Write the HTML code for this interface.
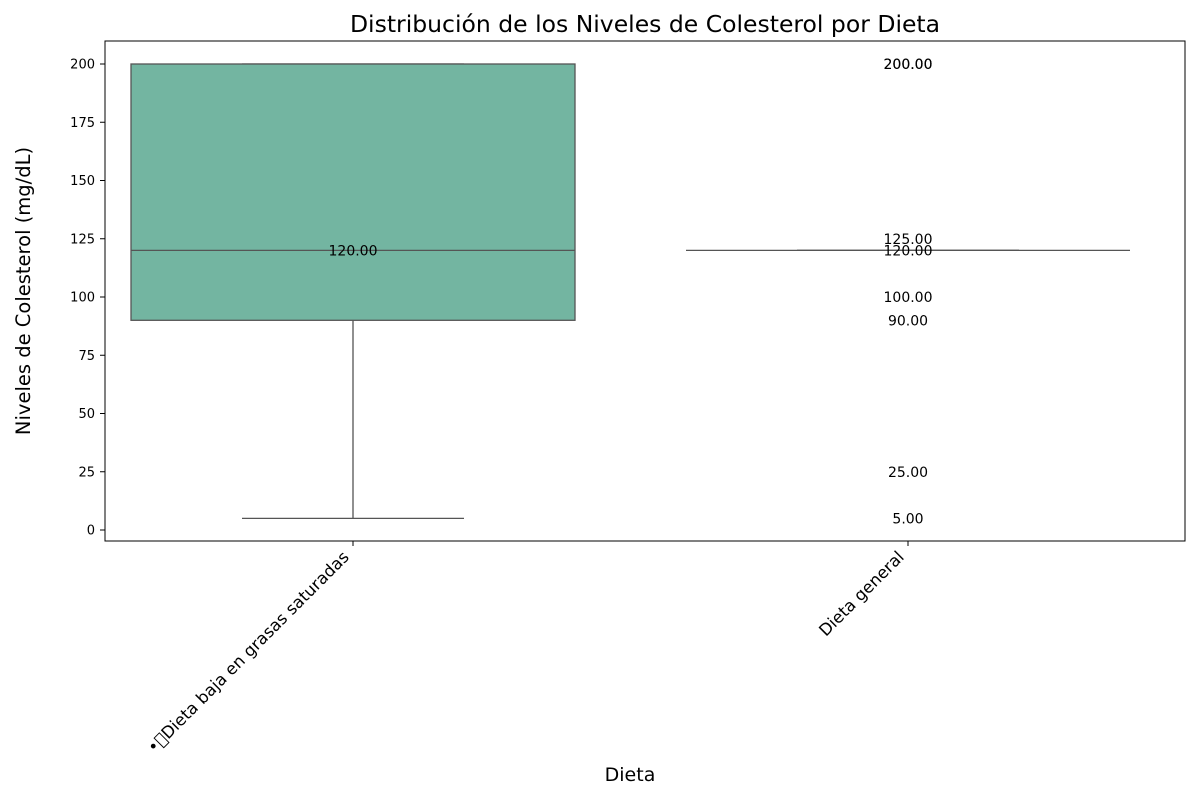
<!DOCTYPE html>
<html><head><meta charset="utf-8"><style>
body{margin:0;background:#fff;font-family:"Liberation Sans","DejaVu Sans",sans-serif}
</style></head><body>
<svg id="chart" width="1200" height="800" xmlns="http://www.w3.org/2000/svg" font-family="DejaVu Sans, Liberation Sans, sans-serif">
<text x="645" y="32" font-size="23.5" text-anchor="middle">Distribución de los Niveles de Colesterol por Dieta</text>
<text x="630" y="781" font-size="19" text-anchor="middle">Dieta</text>
<text transform="translate(30,291) rotate(-90)" font-size="19.5" text-anchor="middle">Niveles de Colesterol (mg/dL)</text>
<g id="plot"></g>
<rect x="105" y="41" width="1080" height="500" fill="none" stroke="#000" stroke-width="1"/>
</svg>
<script>
const categories = ["\u2022\uF0A0Dieta baja en grasas saturadas", "Dieta general"];
const q1 = [90, 120];
const medians = [120, 120];
const q3 = [200, 120];
const whiskerLow = [5, 120];
const whiskerHigh = [200, 120];
const annotations2 = [200, 200, 125, 120, 100, 90, 25, 5];
const annotations1 = [120];
const yTicks = [0, 25, 50, 75, 100, 125, 150, 175, 200];

const NS = "http://www.w3.org/2000/svg";
const g = document.getElementById('plot');
const y = v => 530 - v * 2.33;
const x = i => 353 + i * 555;
function mk(tag, attrs, parent) {
  const e = document.createElementNS(NS, tag);
  for (const k in attrs) e.setAttribute(k, attrs[k]);
  (parent || g).appendChild(e);
  return e;
}
yTicks.forEach(t => {
  const l = mk('line', {x1: 100, x2: 105, y1: y(t), y2: y(t), stroke: '#000'});
  
  
  const tx = mk('text', {x: 95, y: y(t) + 4.5, 'font-size': 13, 'text-anchor': 'end'});
  tx.textContent = t;
  
  
});
categories.forEach((c, i) => {
  const cx = x(i);
  const l = mk('line', {x1: cx, x2: cx, y1: 541, y2: 546, stroke: '#000'});
  
  
  const tx = mk('text', {transform: `translate(${cx - 3},${558}) rotate(-45)`, 'font-size': 16.5, 'text-anchor': 'end'});
  tx.textContent = c;
  
  
  const st = '#555';
  const w1 = mk('line', {x1: cx, x2: cx, y1: y(whiskerLow[i]), y2: y(q1[i]), stroke: st, 'stroke-width': 1.3});
  
  
  const w2 = mk('line', {x1: cx, x2: cx, y1: y(whiskerHigh[i]), y2: y(q3[i]), stroke: st, 'stroke-width': 1.3});
  
  
  [whiskerLow[i], whiskerHigh[i]].forEach(v => {
    const cap = mk('line', {x1: cx - 111, x2: cx + 111, y1: y(v), y2: y(v), stroke: st, 'stroke-width': 1.3});
    
    
  });
  const b = mk('rect', {x: cx - 222, width: 444, y: y(q3[i]), height: Math.max(0, y(q1[i]) - y(q3[i])), fill: '#73b5a1', stroke: st, 'stroke-width': 1.3});
  
  
  const m = mk('line', {x1: cx - 222, x2: cx + 222, y1: y(medians[i]), y2: y(medians[i]), stroke: st, 'stroke-width': 1.3});
  
  
});
[annotations1, annotations2].forEach((arr, i) => {
  arr.forEach(v => {
    const t = mk('text', {x: x(i), y: y(v) + 5, 'font-size': 14, 'text-anchor': 'middle'});
    t.textContent = v.toFixed(2);
    
    
  });
});
</script>
</body></html>
